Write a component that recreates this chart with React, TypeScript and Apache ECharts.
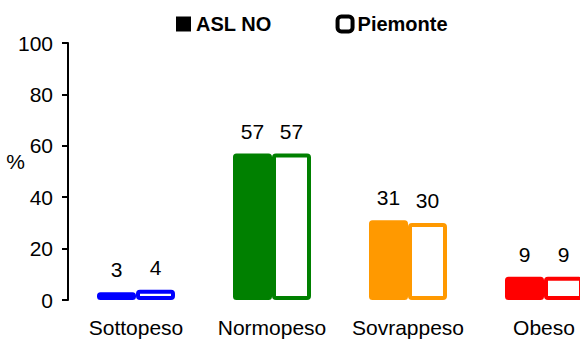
import React, { useEffect, useRef } from "react";
import * as echarts from "echarts";

const categories = ["Sottopeso", "Normopeso", "Sovrappeso", "Obeso"];
const aslValues = [3, 57, 31, 9];
const piemonteValues = [4, 57, 30, 9];
const colors = ["#0000FF", "#008000", "#FF9900", "#FF0000"];
const yTicks = [0, 20, 40, 60, 80, 100];

const FONT = "'Liberation Sans', Arial, sans-serif";

export default function App() {
  const ref = useRef<HTMLDivElement>(null);
  useEffect(() => {
    if (!ref.current) return;
    const chart = echarts.init(ref.current, null, { renderer: "svg" });
    chart.setOption({
      animation: false,
      textStyle: { fontFamily: FONT },
      legend: {
        left: 171,
        top: 9,
        itemWidth: 15,
        itemHeight: 15,
        itemGap: 64,
        textStyle: { fontFamily: FONT, fontSize: 20, fontWeight: "bold", color: "#000" },
        data: [
          { name: "ASL NO", icon: "rect", itemStyle: { color: "#000", borderWidth: 0 } },
          {
            name: "Piemonte",
            icon: "roundRect",
            itemStyle: { color: "#fff", borderColor: "#000", borderWidth: 4 },
          },
        ],
      },
      grid: {
        left: 68,
        top: 43,
        width: 544,
        bottom: 40,
        containLabel: false,
        outerBoundsMode: "none",
      },
      xAxis: {
        type: "category",
        data: categories,
        axisLine: { show: false },
        axisTick: { show: false },
        axisLabel: { fontFamily: FONT, fontSize: 21, color: "#000", margin: 17, interval: 0 },
      },
      yAxis: {
        type: "value",
        min: 0,
        max: 100,
        interval: 20,
        name: "%",
        nameLocation: "middle",
        nameRotate: 0,
        nameGap: 43,
        nameMoveOverlap: false,
        nameTextStyle: { fontFamily: FONT, fontSize: 21, color: "#000", verticalAlign: "bottom" },
        splitLine: { show: false },
        axisLine: { show: true, lineStyle: { color: "#000", width: 2 } },
        axisTick: { show: true, length: 6, lineStyle: { color: "#000", width: 2 } },
        axisLabel: {
          fontFamily: FONT,
          fontSize: 21,
          color: "#000",
          margin: 15,
          formatter: (v: number) => (yTicks.includes(v) ? String(v) : ""),
        },
      },
      series: [
        {
          name: "ASL NO",
          type: "bar",
          barWidth: 39,
          barGap: "0%",
          data: aslValues.map((v, i) => ({
            value: v,
            itemStyle: { color: colors[i], borderColor: colors[i], borderWidth: 3, borderRadius: 2 },
          })),
          label: {
            show: true,
            position: "top",
            distance: 12,
            fontFamily: FONT,
            fontSize: 21,
            color: "#000",
          },
        },
        {
          name: "Piemonte",
          type: "bar",
          barWidth: 39,
          data: piemonteValues.map((v, i) => ({
            value: v,
            itemStyle: { color: "#fff", borderColor: colors[i], borderWidth: 4, borderRadius: 2 },
          })),
          label: {
            show: true,
            position: "top",
            distance: 12,
            fontFamily: FONT,
            fontSize: 21,
            color: "#000",
          },
        },
      ],
    });
    return () => chart.dispose();
  }, []);
  return (
    <div
      style={{
        position: "fixed",
        left: 0,
        top: 0,
        width: 580,
        height: 340,
        overflow: "hidden",
        background: "#fff",
      }}
    >
      <div ref={ref} style={{ width: 640, height: 340 }} />
    </div>
  );
}
